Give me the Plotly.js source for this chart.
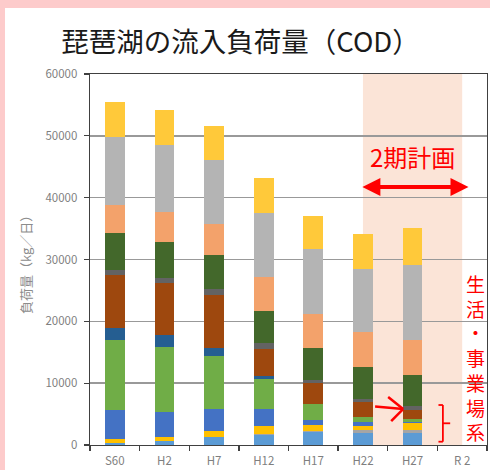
<!DOCTYPE html>
<html>
<head>
<meta charset="utf-8">
<script src="https://cdn.plot.ly/plotly-3.0.1.min.js"></script>
<style>
  html, body { margin: 0; padding: 0; background: #FDCBCB; width: 490px; height: 470px; overflow: hidden; }
  #chart { position: absolute; left: 5px; top: 8px; width: 485px; height: 462px; background: #ffffff; }
</style>
</head>
<body>
<div id="chart"></div>
<script>
// ---- data (kg/day) ----
const categories = ['S60', 'H2', 'H7', 'H12', 'H17', 'H22', 'H27', 'R 2'];

const s01 = [350, 650, 1250, 1600, 2150, 2000, 2000, null];
const s02 = [0, 0, 0, 200, 150, 500, 500, null];
const s03 = [700, 700, 1000, 1200, 900, 600, 1000, null];
const s04 = [4600, 4050, 3500, 2900, 800, 600, 250, null];
const s05 = [11400, 10500, 8600, 4850, 2700, 800, 450, null];
const s06 = [1900, 1900, 1350, 350, 0, 0, 0, null];
const s07 = [8500, 8350, 8500, 4500, 3300, 2500, 1500, null];
const s08 = [900, 900, 950, 900, 550, 400, 550, null];
const s09 = [5900, 5800, 5500, 5150, 5100, 5200, 5050, null];
const s10 = [4500, 4850, 5100, 5500, 5550, 5650, 5750, null];
const s11 = [11000, 10750, 10400, 10400, 10500, 10250, 12100, null];
const s12 = [5700, 5750, 5500, 5650, 5300, 5650, 5900, null];

const seriesValues = [s01, s02, s03, s04, s05, s06, s07, s08, s09, s10, s11, s12];
const seriesNames = ['系列1', '系列2', '系列3', '系列4', '系列5', '系列6', '系列7', '系列8', '系列9', '系列10', '系列11', '系列12'];
const seriesColors = ['#5B9BD5', '#A5A5A5', '#FFC000', '#4472C4', '#70AD47', '#255E91',
                      '#9E480E', '#636363', '#43682B', '#F3A26B', '#B4B4B4', '#FFC93A'];

const yTicks = [0, 10000, 20000, 30000, 40000, 50000, 60000];
const sideText = ['生', '活', '・', '事', '業', '場', '系'];

const FONT = '"Noto Sans CJK JP", "Noto Sans", sans-serif';
const RED = '#FF0000';

const traces = seriesValues.map((vals, i) => ({
  type: 'bar',
  name: seriesNames[i],
  x: categories,
  y: vals,
  marker: { color: seriesColors[i], line: { width: 0 } },
  hoverinfo: 'x+y+name'
}));

const shapes = [
  // 2期計画 shaded band
  { type: 'rect', xref: 'x', yref: 'paper', x0: 5, x1: 7, y0: 0, y1: 1,
    fillcolor: '#FBE4D7', line: { width: 0 }, layer: 'below' },
  // open arrow pointing to H27
  { type: 'line', xref: 'x', yref: 'y', x0: 5.245, y0: 6225, x1: 5.81, y1: 5820, line: { color: RED, width: 2.5 } },
  { type: 'line', xref: 'x', yref: 'y', x0: 5.508, y0: 7760, x1: 5.81, y1: 5820, line: { color: RED, width: 2.5 } },
  { type: 'line', xref: 'x', yref: 'y', x0: 5.569, y0: 3880, x1: 5.81, y1: 5820, line: { color: RED, width: 2.5 } },
  // bracket
  { type: 'line', xref: 'x', yref: 'y', x0: 6.611, y0: 6468, x1: 6.611, y1: 534, line: { color: RED, width: 1.8 } },
  { type: 'line', xref: 'x', yref: 'y', x0: 6.522, y0: 6468, x1: 6.611, y1: 6468, line: { color: RED, width: 1.8 } },
  { type: 'line', xref: 'x', yref: 'y', x0: 6.522, y0: 534, x1: 6.611, y1: 534, line: { color: RED, width: 1.8 } },
  { type: 'line', xref: 'x', yref: 'y', x0: 6.611, y0: 3509, x1: 6.758, y1: 3509, line: { color: RED, width: 1.8 } }
];

const annotations = [
  // y-axis title
  { xref: 'paper', yref: 'paper', x: -0.1637, y: 0.493, text: '負荷量（kg／日）', textangle: -90,
    showarrow: false, xanchor: 'center', yanchor: 'middle', font: { family: FONT, size: 13, color: '#8C8C8C' } },
  // 2期計画 label
  { xref: 'x', yref: 'y', x: 5.99, y: 46730, text: '2期計画', showarrow: false,
    xanchor: 'center', yanchor: 'middle', font: { family: FONT, size: 24, color: RED } },
  // double arrow
  { xref: 'x', yref: 'y', axref: 'x', ayref: 'y', x: 7.127, y: 41720, ax: 4.958, ay: 41720,
    text: '', showarrow: true, arrowside: 'end+start', arrowhead: 2, arrowsize: 0.9, arrowwidth: 4,
    arrowcolor: RED, standoff: 0, startstandoff: 0 },
  // vertical side label
  { xref: 'paper', yref: 'paper', x: (475 - 90) / 397, y: (445 - 357) / 371,
    text: sideText.join('<br>'), showarrow: false, xanchor: 'center', yanchor: 'middle', align: 'center',
    font: { family: FONT, size: 19, color: RED } }
];

const layout = {
  width: 485, height: 462,
  margin: { l: 85, r: 3, t: 66, b: 25, pad: 0 },
  paper_bgcolor: 'rgba(0,0,0,0)',
  plot_bgcolor: 'rgba(0,0,0,0)',
  barmode: 'stack',
  bargap: 0.6,
  showlegend: false,
  title: {
    text: '琵琶湖の流入負荷量（COD）',
    xref: 'container', yref: 'container', x: 0.4856, y: 0.9264,
    xanchor: 'center', yanchor: 'middle',
    font: { family: FONT, size: 27.5, color: '#1A1A1A' }
  },
  xaxis: {
    type: 'category',
    categoryorder: 'array', categoryarray: categories,
    range: [-0.5, 7.5],
    showline: true, linecolor: '#404040', linewidth: 1.3, mirror: true,
    ticks: 'outside', tickson: 'boundaries', ticklen: 5, tickcolor: '#404040', tickwidth: 1.3,
    ticklabelstandoff: 5,
    showgrid: false,
    tickfont: { family: FONT, size: 11.5, color: '#7F7F7F' },
    fixedrange: true
  },
  yaxis: {
    range: [0, 60000],
    tickvals: yTicks,
    ticktext: yTicks.map(String),
    showline: true, linecolor: '#404040', linewidth: 1.3, mirror: true,
    ticks: 'outside', ticklen: 5, tickcolor: '#404040', tickwidth: 1.3,
    ticklabelstandoff: 4,
    showgrid: true, gridcolor: '#999999', gridwidth: 1.4,
    zeroline: false,
    tickfont: { family: FONT, size: 11.5, color: '#7F7F7F' },
    fixedrange: true
  },
  shapes: shapes,
  annotations: annotations
};

Plotly.newPlot('chart', traces, layout, { displayModeBar: false, staticPlot: true });
</script>
</body>
</html>
